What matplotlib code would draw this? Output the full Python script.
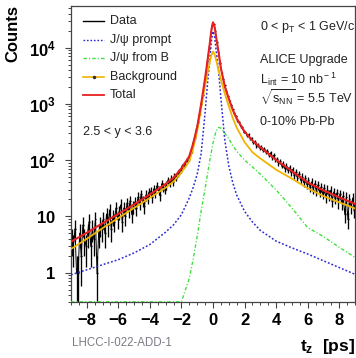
import numpy as np
import matplotlib
matplotlib.use("Agg")
import matplotlib.pyplot as plt
from matplotlib.ticker import FixedLocator, FixedFormatter, MultipleLocator, LogLocator, NullFormatter

plt.rcParams['font.family'] = ['Liberation Sans', 'DejaVu Sans']
plt.rcParams['mathtext.fontset'] = 'custom'
plt.rcParams['mathtext.rm'] = 'Liberation Sans'
plt.rcParams['mathtext.it'] = 'Liberation Sans:italic'
plt.rcParams['mathtext.bf'] = 'Liberation Sans:bold'

# ---- model curves (log10 of counts per bin) ----
t_curve = [-9, -8, -7, -6, -5, -4, -3, -2.5, -2, -1.5, -1.25, -1, -0.75, -0.5, -0.35, -0.2, -0.1, 0,
           0.1, 0.2, 0.35, 0.5, 0.75, 1, 1.25, 1.5, 2, 2.5, 3, 4, 5, 6, 7, 8, 9]
log_bkg = [0.42, 0.60, 0.79, 0.97, 1.15, 1.33, 1.51, 1.62, 1.78, 1.98, 2.22, 2.52, 2.93, 3.33, 3.55, 3.75, 3.87, 3.93,
           3.88, 3.78, 3.60, 3.43, 3.18, 2.96, 2.75, 2.58, 2.32, 2.14, 2.03, 1.83, 1.67, 1.50, 1.36, 1.25, 1.14]
log_prompt = [-0.04, 0.05, 0.14, 0.23, 0.35, 0.50, 0.72, 0.85, 1.03, 1.33, 1.52, 1.75, 2.12, 2.85, 3.35, 3.80, 4.12, 4.29,
              4.20, 3.95, 3.60, 3.10, 2.35, 1.90, 1.60, 1.38, 1.09, 0.90, 0.75, 0.56, 0.44, 0.33, 0.21, 0.09, -0.03]
log_fromB = [-6, -6, -6, -6, -6, -6, -6, -3, -1.0, -0.10, 0.25, 0.65, 1.10, 1.50, 1.75, 2.00, 2.15, 2.30,
             2.42, 2.52, 2.58, 2.57, 2.48, 2.38, 2.26, 2.16, 2.00, 1.88, 1.75, 1.47, 1.15, 0.80, 0.64, 0.45, 0.27]

# ---- data histogram: counts per 0.1 ps bin, from -9 to 9 ----
data_counts = [
    4, 3, 6, 1, 1, 5, 2, 7, 4, 3,
    5, 8, 3, 6, 4, 9, 1, 5, 7, 6,
    9, 5, 11, 7, 13, 6, 10, 8, 14, 9,
    12, 16, 8, 14, 10, 17, 13, 19, 11, 15,
    18, 14, 22, 17, 25, 19, 15, 24, 21, 27,
    28, 22, 31, 26, 35, 29, 24, 38, 33, 30,
    36, 44, 39, 47, 41, 52, 49, 58, 63, 68,
    77, 82, 86, 101, 107, 129, 146, 203, 255, 348,
    470, 662, 1010, 1430, 2230, 3290, 5850, 9420, 16100, 24900,
    26400, 19600, 12450, 8350, 5280, 3620, 2770, 2130, 1680, 1370,
    1145, 948, 795, 677, 601, 508, 472, 398, 381, 322,
    318, 279, 281, 246, 243, 206, 211, 181, 188, 165,
    170, 149, 158, 139, 145, 124, 135, 112, 121, 101,
    104, 88, 95, 80, 86, 71, 79, 66, 73, 61,
    68, 54, 61, 49, 57, 44, 51, 40, 48, 37,
    44, 33, 41, 30, 38, 28, 36, 27, 33, 25,
    32, 22, 30, 24, 29, 19, 27, 21, 26, 18,
    25, 17, 23, 11, 22, 9, 20, 15, 21, 13,
]
bin_lo, bin_hi, bin_w = -9.0, 9.0, 0.1

x_ticks = [-8, -6, -4, -2, 0, 2, 4, 6, 8]
y_ticks = [1, 10, 100, 1000, 10000]
y_ticklabels = [r'$\mathbf{1}$', r'$\mathbf{10}$', r'$\mathbf{10^{2}}$', r'$\mathbf{10^{3}}$', r'$\mathbf{10^{4}}$']
legend_labels = ['Data', 'J/\u03c8 prompt', 'J/\u03c8 from B', 'Background', 'Total']

# ---- figure ----
W, H = 356, 358
fig = plt.figure(figsize=(W / 100, H / 100), dpi=100)
ax_l, ax_r, ax_t, ax_b = 71, 355, 6, 302
ax = fig.add_axes([ax_l / W, 1 - ax_b / H, (ax_r - ax_l) / W, (ax_b - ax_t) / H])

def fp(x, y):
    return (x / W, 1 - y / H)

tc = np.array(t_curve)
bkg = 10 ** np.array(log_bkg)
prompt = 10 ** np.array(log_prompt)
fromB = 10 ** np.array(log_fromB)
total = bkg + prompt + fromB

ymin, ymax = 0.3, 5.5e4

counts = np.array(data_counts, dtype=float)
centers = bin_lo + bin_w * (np.arange(len(counts)) + 0.5)
err = np.sqrt(counts)
err_lo = np.minimum(err, counts - 1e-3)
ax.errorbar(centers, counts, yerr=[err_lo, err], xerr=bin_w / 2, fmt='none',
            ecolor='black', elinewidth=0.95, capsize=0, zorder=2)
ax.plot(centers, counts, color='black', lw=0.7, zorder=2)

c_blue, c_green, c_yel, c_red = '#2b2bd0', '#3fe03f', '#f0b400', '#e82020'
ls_blue = (0, (1.2, 1.3))
ls_green = (0, (2.5, 1.5, 0.8, 1.5))
ax.plot(tc, prompt, color=c_blue, lw=1.1, ls=ls_blue, zorder=3)
ax.plot(tc, np.clip(fromB, ymin * 1.01, None), color=c_green, lw=1.0, ls=ls_green, zorder=3)
ax.plot(tc, bkg, color=c_yel, lw=1.3, zorder=4)
ax.plot(tc, total, color=c_red, lw=1.5, zorder=5)

ax.set_yscale('log')
ax.set_xlim(bin_lo, bin_hi)
ax.set_ylim(ymin, ymax)

ax.yaxis.set_major_locator(FixedLocator(y_ticks))
ax.yaxis.set_major_formatter(FixedFormatter(y_ticklabels))
ax.yaxis.set_minor_locator(LogLocator(base=10, subs=np.arange(2, 10)))
ax.yaxis.set_minor_formatter(NullFormatter())
ax.xaxis.set_major_locator(FixedLocator(x_ticks))
ax.xaxis.set_minor_locator(MultipleLocator(0.5))

for s in ax.spines.values():
    s.set_color('#444444')
    s.set_linewidth(0.9)
ax.tick_params(axis='both', which='major', direction='out', length=4, width=0.8, color='#444444',
               labelsize=12, pad=7)
ax.tick_params(axis='both', which='minor', direction='out', length=2.5, width=0.7, color='#444444')
ax.tick_params(axis='x', which='major', pad=4)
for lab in ax.get_xticklabels():
    lab.set_fontweight('bold')

# axis titles
fig.text(*fp(13, 5), 'Counts', rotation=90, ha='center', va='top', fontsize=12, fontweight='bold')
fig.text(*fp(355, 347), r'$\mathbf{t_{z}}$  [ps]', ha='right', va='center', fontsize=12.5, fontweight='bold')
fig.text(*fp(72, 343), 'LHCC-I-022-ADD-1', ha='left', va='center', fontsize=8.3, color='#7f7a86')

# legend
rows = [21, 40, 58, 77, 95]
styles = [dict(color='black', lw=1.0),
          dict(color=c_blue, lw=1.0, ls=ls_blue),
          dict(color=c_green, lw=1.0, ls=ls_green),
          dict(color=c_yel, lw=1.2),
          dict(color=c_red, lw=1.3)]
for yrow, lab, st in zip(rows, legend_labels, styles):
    x0, y0 = fp(83, yrow)
    x1, _ = fp(104, yrow)
    fig.add_artist(plt.Line2D([x0, x1], [y0, y0], transform=fig.transFigure, **st))
    fig.text(*fp(110, yrow), lab, ha='left', va='center', fontsize=9, color='#222222')
xm, ym = fp(94, 77)
fig.add_artist(plt.Line2D([xm], [ym], transform=fig.transFigure, marker='o', markersize=1.5,
                          color='#333333', lw=0))

fig.text(*fp(83, 132), '2.5 < y < 3.6', ha='left', va='center', fontsize=9, color='#222222')
fig.text(*fp(260, 27), r'0 < p$_{\rm T}$ < 1 GeV/c', ha='left', va='center', fontsize=9, color='#222222')
fig.text(*fp(260, 60), 'ALICE Upgrade', ha='left', va='center', fontsize=9, color='#222222')
fig.text(*fp(260, 79), r'L$_{\rm int}$ = 10 nb$^{\rm -1}$', ha='left', va='center', fontsize=9, color='#222222')
fig.text(*fp(260, 98), r'$\sqrt{\rm s_{NN}}$ = 5.5 TeV', ha='left', va='center', fontsize=9, color='#222222')
fig.text(*fp(260, 122), '0-10% Pb-Pb', ha='left', va='center', fontsize=9, color='#222222')

fig.savefig('out.png', dpi=100)
